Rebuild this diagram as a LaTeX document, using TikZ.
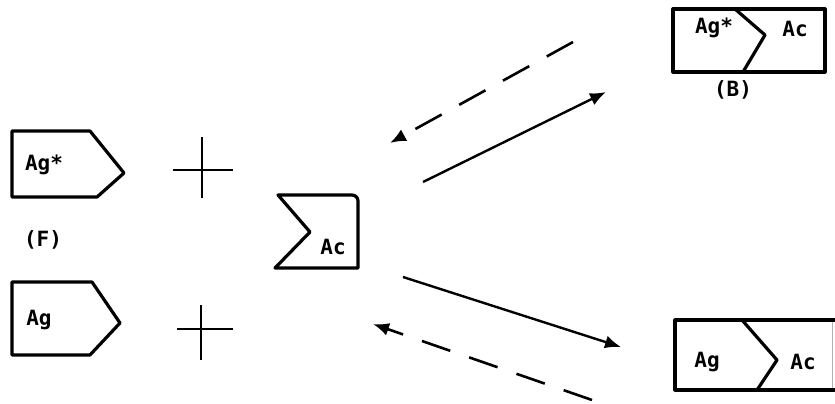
\documentclass[tikz,border=0pt]{standalone}
\usepackage{fontspec}
\setmonofont{DejaVu Sans Mono}
\usetikzlibrary{arrows.meta}
\tikzset{
  boxline/.style={line width=3.2pt, line join=round},
  lbl/.style={font=\ttfamily\bfseries\fontsize{21}{23}\selectfont, inner sep=0pt},
  plusline/.style={line width=2.4pt},
  fwd/.style={line width=2.4pt, -{Latex[length=16pt,width=13pt]}},
  bwd/.style={line width=2.6pt, dash pattern=on 30pt off 20pt, -{Latex[length=16pt,width=13pt]}}
}
\begin{document}
\begin{tikzpicture}[x=1pt,y=-1pt]
\useasboundingbox (0,0) rectangle (835,404);
% free antigen Ag*
\draw[boxline] (12,131) -- (90,131) -- (124,173) -- (97,197) -- (12,197) -- cycle;
\node[lbl] (agstar) at (44,165) {Ag*};
% plus 1
\coordinate (p1) at (202,170);
\draw[plusline] ([xshift=-29pt]p1) -- ([xshift=31pt]p1);
\draw[plusline] ([yshift=-28pt]p1) -- ([yshift=33pt]p1);
% (F)
\node[lbl] (F) at (43,240) {(F)};
% Ag
\draw[boxline] (12,282) -- (92,282) -- (120,323) -- (90,355) -- (12,355) -- cycle;
\node[lbl] (ag) at (39,320) {Ag};
% plus 2
\coordinate (p2) at (201,329);
\draw[plusline] ([xshift=-24pt]p2) -- ([xshift=32pt]p2);
\draw[plusline] ([yshift=-31pt]p2) -- ([yshift=24pt]p2);
% antibody Ac
\draw[boxline] (310,232) -- (278,195) -- (352,195) to[out=0,in=90] (358,201) -- (358,268) -- (275,268) -- cycle;
\node[lbl] (ac) at (333,247) {Ac};
% bound complex (B)
\draw[boxline] (673,9) rectangle (825,72);
\draw[boxline] (735,9) -- (765,35) -- (743,72);
\node[lbl] (bag) at (714,28) {Ag*};
\node[lbl] (bac) at (795,29) {Ac};
\node[lbl] (B) at (733,90) {(B)};
% bottom complex
\draw[boxline] (835,320) -- (675,320) -- (675,390) -- (835,390);
\draw[line width=0.6pt, gray!60] (832,322) -- (832,388);
\draw[boxline] (742,320) -- (777,360) -- (757,390);
\node[lbl] (cag) at (707,362) {Ag};
\node[lbl] (cac) at (803,362) {Ac};
% arrows
\coordinate (t1s) at (423,182); \coordinate (t1e) at (606,92);
\coordinate (t2s) at (573,42);  \coordinate (t2e) at (390,143);
\coordinate (b1s) at (403,277); \coordinate (b1e) at (621,347);
\coordinate (b2s) at (592,400); \coordinate (b2e) at (373,324);
\draw[fwd] (t1s) -- (t1e);
\draw[bwd] (t2s) -- (t2e);
\draw[fwd] (b1s) -- (b1e);
\draw[bwd] (b2s) -- (b2e);
\end{tikzpicture}
\end{document}
